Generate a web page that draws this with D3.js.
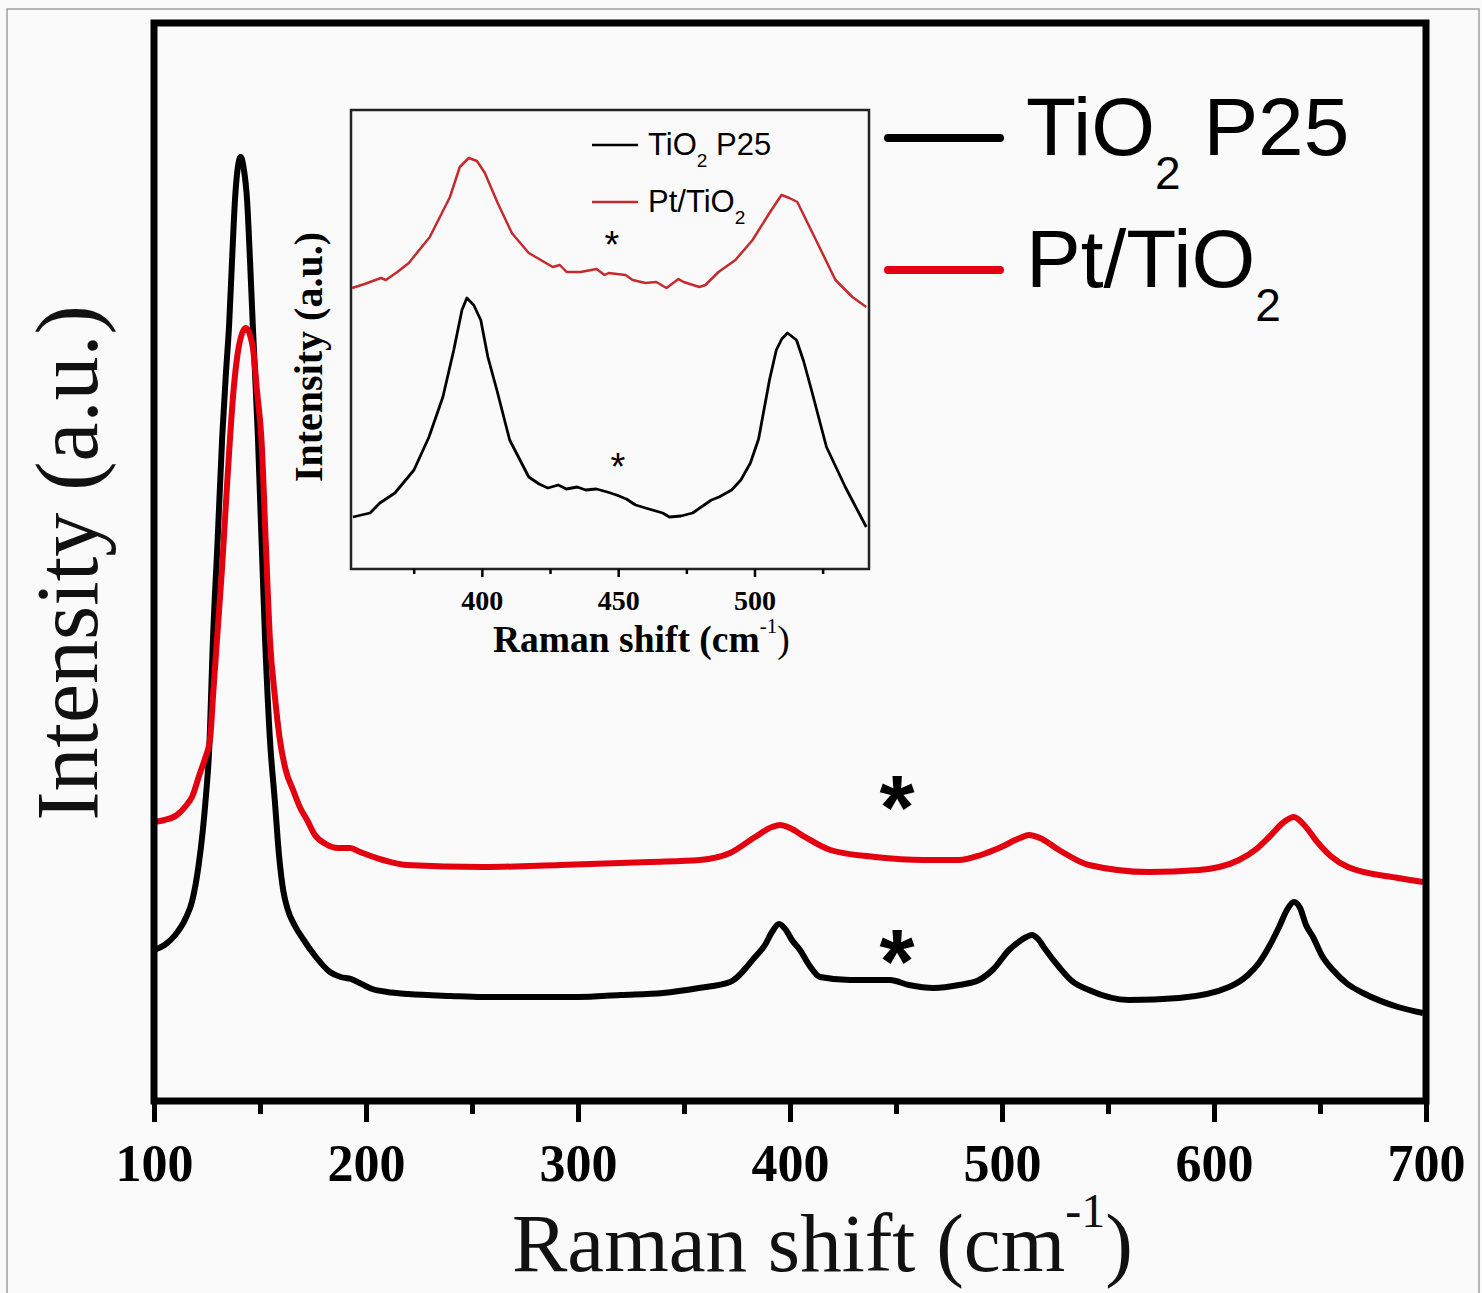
<!DOCTYPE html>
<html>
<head>
<meta charset="utf-8">
<script src="https://cdn.jsdelivr.net/npm/d3@7"></script>
<style>
  body { margin: 0; background: #fafafa; }
  svg { display: block; }
</style>
</head>
<body>
<div id="vis"></div>
<script>
// main spectrum: Raman shift (cm-1) vs intensity (a.u.)
const p25Main = [
  [100,151],[105,156],[110,166],[115,183],[118,200],[121,235],[123,270],[124.5,305],[126,350],
  [127.8,461],[130,560],[132.2,665],[134,730],[135.4,775],[136.8,840],[138.2,901],[139.5,933],
  [140.9,944],[142.3,933],[143.9,901],[145.3,840],[146.7,771],[149,665],[152.4,461],[154.7,361],
  [157,300],[159,245],[161,210],[163,192],[166.5,175],[170.3,162],[176,145],[183,129],[188,124],
  [193,122],[197,118],[203,112],[210,109],[220,107],[240,105],[255,104],[280,104],[300,104],
  [320,106],[340,108],[357,113],[371.7,119],[383.5,144],[388.2,156],[391.5,169],[394.8,177],
  [398.1,171],[400.9,161],[404.7,151],[409,136],[414.2,124],[428.3,121],[447.2,121],[456.1,116],
  [467.9,113],[479.7,116],[489.2,121],[496,132],[503.3,151],[508.5,160],[511.5,164],[514.2,166],
  [517,162],[520.3,152],[526.9,134],[533,120],[541,111],[559.9,101],[583.5,103],[607.1,114],
  [616,126],[621.2,138],[626.4,156],[630.7,174],[634.4,191],[637.7,199],[640.6,193],[643.4,176],
  [646.7,164],[651,145],[656.1,131],[663,117],[670.3,108],[686.8,94],[698.6,88]
];
const ptMain = [
  [100,279],[105,281],[110.8,286],[115,295],[117.9,304],[121.7,328],[124,342],[126.4,361],
  [128,410],[129.7,461],[132,530],[134,600],[135.8,661],[137.5,710],[139.3,745],[141.3,766],
  [143.3,773],[145.3,766],[146.8,751],[148.5,712],[150.7,661],[152.7,560],[154.7,461],
  [157,405],[159.4,361],[162,332],[165.6,311],[169,293],[172.2,281],[175.9,266],[181,257],
  [186.8,253],[192.5,253],[197.2,249],[208,241],[218.9,236],[255.2,234],[291.5,236],[334,239],
  [357.5,241],[371.7,248],[383.5,264],[391.5,274],[395.3,276],[400,273],[407.1,264],[419,251],
  [440.1,244],[463.2,241],[479.7,241],[490,246],[498.6,253],[508.5,263],[512.7,266],[517.9,263],
  [526.9,251],[541,236],[569.3,229],[592.9,231],[611.8,241],[620,252],[626,264],[633,279],
  [637.7,284],[642.5,276],[649.1,258],[655,245],[663.2,234],[686.8,223],[698.6,219]
];

// inset: 350-545 cm-1 close-up
const p25Inset = [
  [352.7,52],[359,56],[362.6,66],[368.1,76],[375.1,99],[380.6,132],[385.7,172],[389.7,219],
  [392.7,259],[394.5,271],[397,264],[399.6,249],[402.2,212],[405.5,179],[410.2,129],[417.2,92],
  [421,85],[424.2,81],[428,84],[431,80],[435,82],[438.1,79],[442,80],[446,77],[449.4,74],
  [453,70],[456.4,64],[460,61],[466.3,56],[468.8,52],[473,53],[477.3,56],[484.2,69],[487,72],
  [491.6,79],[495,89],[498.5,106],[501.5,130],[505.5,189],[508,219],[510,230],[512.1,236],
  [515.4,229],[518,208],[520.9,179],[526.4,122],[533.3,82],[541,42]
];
const ptInset = [
  [352.4,281],[357,285],[363,291],[364.8,289],[369,297],[373.2,306],[380.9,332],[388.3,372],
  [391.9,402],[395.2,411],[398.2,408],[401.1,396],[405.8,366],[411,336],[417.2,316],[426,302],
  [428.6,304],[431.1,297],[436.2,297],[442.1,300],[445,294],[446.5,296],[452.7,294],[455.3,289],
  [460,286],[464,287],[467.7,281],[472.1,290],[474,287],[479.8,282],[482,284],[486.8,297],
  [493,309],[499.3,329],[505.5,356],[509.9,374],[512.8,371],[515.7,367],[522,332],[529.7,289],
  [535.9,272],[541,262]
];

const mainTicks = [100, 200, 300, 400, 500, 600, 700];
const mainMinor = [150, 250, 350, 450, 550, 650];
const insetTicks = [400, 450, 500];
const insetMinor = [375, 425, 475, 525];

const W = 1482, H = 1293;
const serif = '"Liberation Serif", "Times New Roman", serif';
const sans = '"Liberation Sans", Arial, sans-serif';
const red = '#e3000f', insetRed = '#c42a2e';

let svg = d3.select('#vis').append('svg')
  .attr('width', W).attr('height', H)
  .style('background-color', '#fafafa');

// outer picture border
svg.append('rect')
  .attr('x', 7).attr('y', 9).attr('width', W - 10).attr('height', H)
  .attr('fill', 'none').attr('stroke', '#a0a0a0').attr('stroke-width', 1.5);

// ---------- main plot ----------
let x = d3.scaleLinear().domain([100, 700]).range([154, 1426]);
let y = d3.scaleLinear().domain([0, 1078]).range([1101, 23]);

let line = d3.line()
  .x(d => x(d[0]))
  .y(d => y(d[1]))
  .curve(d3.curveMonotoneX);

svg.append('path').datum(p25Main)
  .attr('d', line).attr('fill', 'none')
  .attr('stroke', '#000').attr('stroke-width', 6).attr('stroke-linejoin', 'round');
svg.append('path').datum(ptMain)
  .attr('d', line).attr('fill', 'none')
  .attr('stroke', red).attr('stroke-width', 6).attr('stroke-linejoin', 'round');

// x axis ticks
let xAxis = svg.append('g')
  .attr('transform', 'translate(0,1101)')
  .call(d3.axisBottom(x).tickValues(mainTicks).tickSize(21).tickPadding(22).tickFormat(d3.format('d')));
xAxis.select('.domain').remove();
xAxis.selectAll('line').attr('stroke-width', 5);
xAxis.selectAll('text')
  .attr('font-family', serif).attr('font-weight', 'bold').attr('font-size', 52).attr('fill', '#000');

let xMinor = svg.append('g')
  .attr('transform', 'translate(0,1101)')
  .call(d3.axisBottom(x).tickValues(mainMinor).tickSize(13).tickFormat(''));
xMinor.select('.domain').remove();
xMinor.selectAll('line').attr('stroke-width', 5);

// frame
svg.append('rect')
  .attr('x', 154).attr('y', 23).attr('width', 1426 - 154).attr('height', 1101 - 23)
  .attr('fill', 'none').attr('stroke', '#000').attr('stroke-width', 7);

// axis titles
let xt = svg.append('text')
  .attr('x', 512).attr('y', 1271)
  .attr('font-family', serif).attr('font-size', 83).attr('fill', '#111');
xt.append('tspan').text('Raman shift (cm');
xt.append('tspan').attr('font-size', 48).attr('dy', -44).text('-1');
xt.append('tspan').attr('dy', 44).text(')');

svg.append('text')
  .attr('transform', 'translate(97,563) rotate(-90)')
  .attr('text-anchor', 'middle')
  .attr('font-family', serif).attr('font-size', 88).attr('fill', '#111')
  .text('Intensity (a.u.)');

// asterisks
svg.append('text').attr('x', 897).attr('y', 839).attr('text-anchor', 'middle')
  .attr('font-family', sans).attr('font-weight', 'bold').attr('font-size', 90).text('*');
svg.append('text').attr('x', 897).attr('y', 993).attr('text-anchor', 'middle')
  .attr('font-family', sans).attr('font-weight', 'bold').attr('font-size', 90).text('*');

// main legend
const legendItems = [
  {color: '#000', y: 138, parts: [['TiO', 0], ['2', 1], [' P25', 0]]},
  {color: red, y: 270, parts: [['Pt/TiO', 0], ['2', 1]]}
];
legendItems.forEach(function(it) {
  svg.append('line')
    .attr('x1', 888).attr('x2', 1000).attr('y1', it.y).attr('y2', it.y)
    .attr('stroke', it.color).attr('stroke-width', 8).attr('stroke-linecap', 'round');
  let t = svg.append('text')
    .attr('x', 1026).attr('y', it.y + 17)
    .attr('font-family', sans).attr('font-size', 82).attr('fill', '#000');
  let shift = 0;
  it.parts.forEach(function(p) {
    let dy = p[1] ? 34 - shift : -shift;
    shift = p[1] ? 34 : 0;
    t.append('tspan').attr('dy', dy).attr('font-size', p[1] ? 46 : 82).text(p[0]);
  });
});

// ---------- inset ----------
let xi = d3.scaleLinear().domain([352, 542]).range([351, 869]);
let yi = d3.scaleLinear().domain([0, 459]).range([569, 110]);

let lineI = d3.line()
  .x(d => xi(d[0]))
  .y(d => yi(d[1]));

svg.append('rect')
  .attr('x', 351).attr('y', 110).attr('width', 869 - 351).attr('height', 569 - 110)
  .attr('fill', '#fafafa').attr('stroke', '#222').attr('stroke-width', 2.5);

svg.append('path').datum(p25Inset)
  .attr('d', lineI).attr('fill', 'none')
  .attr('stroke', '#000').attr('stroke-width', 2.8).attr('stroke-linejoin', 'round');
svg.append('path').datum(ptInset)
  .attr('d', lineI).attr('fill', 'none')
  .attr('stroke', insetRed).attr('stroke-width', 2.5).attr('stroke-linejoin', 'round');

let xiAxis = svg.append('g')
  .attr('transform', 'translate(0,569)')
  .call(d3.axisBottom(xi).tickValues(insetTicks).tickSize(8).tickPadding(13).tickFormat(d3.format('d')));
xiAxis.select('.domain').remove();
xiAxis.selectAll('line').attr('stroke-width', 2.5);
xiAxis.selectAll('text')
  .attr('font-family', serif).attr('font-weight', 'bold').attr('font-size', 28).attr('fill', '#000');

let xiMinor = svg.append('g')
  .attr('transform', 'translate(0,569)')
  .call(d3.axisBottom(xi).tickValues(insetMinor).tickSize(5).tickFormat(''));
xiMinor.select('.domain').remove();
xiMinor.selectAll('line').attr('stroke-width', 2.5);

let xit = svg.append('text')
  .attr('x', 493).attr('y', 652)
  .attr('font-family', serif).attr('font-weight', 'bold').attr('font-size', 37.5).attr('fill', '#000');
xit.append('tspan').text('Raman shift (cm');
xit.append('tspan').attr('font-size', 21).attr('font-weight', 'normal').attr('dy', -19).text('-1');
xit.append('tspan').attr('font-weight', 'normal').attr('dy', 19).text(')');

svg.append('text')
  .attr('transform', 'translate(322,357) rotate(-90)')
  .attr('text-anchor', 'middle')
  .attr('font-family', serif).attr('font-weight', 'bold').attr('font-size', 40).attr('fill', '#000')
  .text('Intensity (a.u.)');

// inset asterisks
svg.append('text').attr('x', 612).attr('y', 258).attr('text-anchor', 'middle')
  .attr('font-family', sans).attr('font-size', 38).text('*');
svg.append('text').attr('x', 618).attr('y', 480).attr('text-anchor', 'middle')
  .attr('font-family', sans).attr('font-size', 38).text('*');

// inset legend
const insetLegend = [
  {color: '#000', y: 145, parts: [['TiO', 0], ['2', 1], [' P25', 0]]},
  {color: insetRed, y: 202, parts: [['Pt/TiO', 0], ['2', 1]]}
];
insetLegend.forEach(function(it) {
  svg.append('line')
    .attr('x1', 592).attr('x2', 638).attr('y1', it.y).attr('y2', it.y)
    .attr('stroke', it.color).attr('stroke-width', 2.5);
  let t = svg.append('text')
    .attr('x', 648).attr('y', it.y + 10)
    .attr('font-family', sans).attr('font-size', 31).attr('fill', '#000');
  let shift = 0;
  it.parts.forEach(function(p) {
    let dy = p[1] ? 12 - shift : -shift;
    shift = p[1] ? 12 : 0;
    t.append('tspan').attr('dy', dy).attr('font-size', p[1] ? 19 : 31).text(p[0]);
  });
});
</script>
</body>
</html>
